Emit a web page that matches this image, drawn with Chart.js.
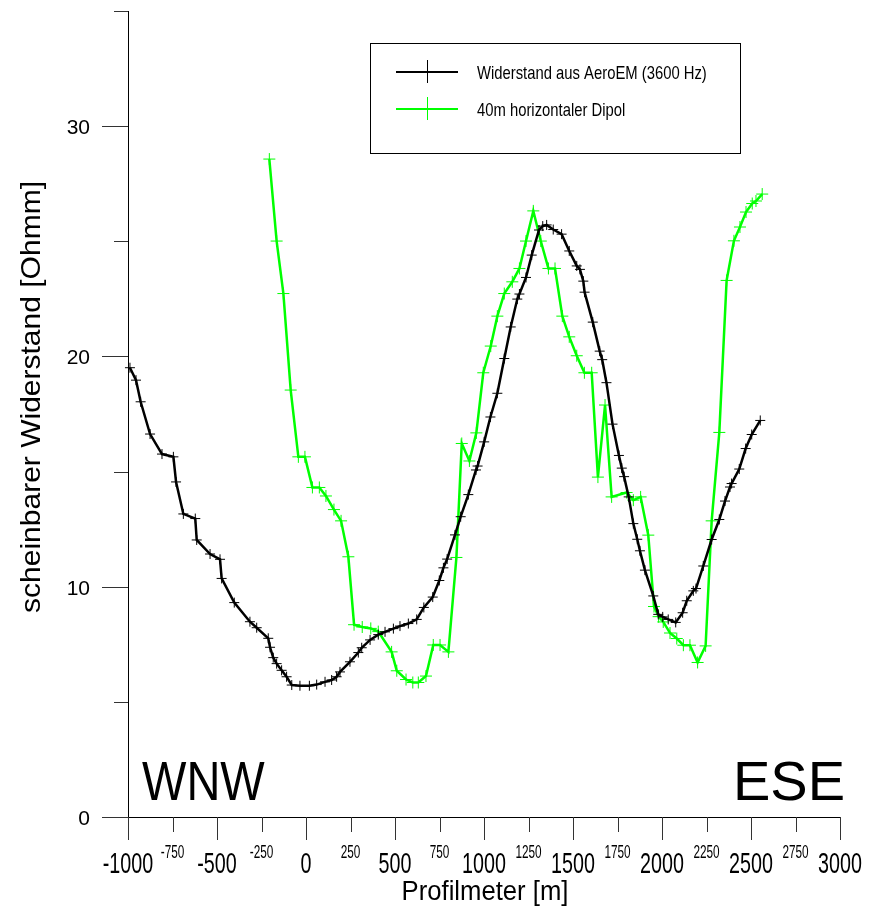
<!DOCTYPE html>
<html>
<head>
<meta charset="utf-8">
<script src="https://cdn.jsdelivr.net/npm/chart.js@4.4.0/dist/chart.umd.min.js"></script>
<style>
  html, body { margin: 0; padding: 0; background: #fff; }
  #wrap { width: 869px; height: 906px; }
</style>
</head>
<body>
<div id="wrap"><canvas id="profilChart"></canvas></div>
<script>
// Profilmeter [m] / scheinbarer Widerstand [Ohmm]
const aeroX = [-989,-955,-929,-876,-809,-745,-730,-689,-622,-614,-539,-483,-474,-403,-315,-277,-212,-202,-184,-165,
  -137,-109,-80,-34,19,60,107,144,172,191,247,294,313,360,406,444,491,528,575,622,662,712,749,772,793,837,869,912,955,964,
  1001,1036,1075,1114,1150,1187,1199,1236,1268,1309,1330,1352,1389,1436,1479,1521,1539,1558,1565,1611,1650,1664,1688,1722,
  1758,1774,1787,1813,1839,1861,1876,1904,1951,1979,2004,2035,2077,2116,2139,2176,2191,2232,2279,2322,2354,2382,2391,2434,
  2470,2504,2552];
const aeroY = [19.51,18.97,18.03,16.63,15.76,15.64,14.55,13.16,12.96,12.03,11.42,11.19,10.36,9.31,8.48,8.22,7.76,7.37,6.92,6.66,
  6.37,6.09,5.73,5.70,5.70,5.75,5.87,5.95,6.09,6.30,6.74,7.14,7.35,7.69,7.92,8.04,8.18,8.29,8.40,8.58,9.10,9.55,10.27,10.82,11.20,12.25,13.04,14.00,15.07,15.24,
  16.29,17.37,18.40,19.91,21.28,22.49,22.71,23.43,24.40,25.49,25.66,25.71,25.51,25.31,24.58,23.93,23.78,23.27,22.79,21.49,20.23,19.86,18.86,17.06,
  15.70,15.15,14.78,13.90,12.74,12.06,11.56,10.72,9.60,8.80,8.69,8.58,8.45,8.87,9.39,9.82,9.92,10.90,12.05,12.92,13.72,14.33,14.48,15.11,
  16.00,16.61,17.22];

const dipolX = [-206,-165,-127,-86,-43,-6,36,75,112,157,197,238,270,316,364,406,481,510,562,600,631,674,715,753,800,845,875,918,957,
  996,1038,1075,1114,1159,1199,1236,1277,1319,1362,1399,1440,1479,1521,1564,1605,1640,1680,1717,1801,1839,1880,1923,1955,1981,
  2007,2045,2083,2120,2157,2200,2245,2279,2322,2363,2404,2438,2472,2507,2528,2563];
const dipolY = [28.57,25.01,22.73,18.54,15.64,15.64,14.31,14.31,13.94,13.35,12.86,11.30,8.35,8.25,8.19,8.05,7.17,6.35,5.97,5.84,5.84,6.12,7.47,7.47,7.17,11.27,16.22,15.46,16.68,
  19.29,20.45,21.75,22.73,23.24,23.82,25.01,26.32,25.01,23.82,23.82,21.75,20.85,20.03,19.29,19.29,14.76,17.89,13.90,14.09,13.76,13.90,12.24,9.14,8.70,
  8.47,7.99,7.75,7.46,7.46,6.71,7.43,12.86,16.70,23.30,25.02,25.62,26.27,26.64,26.75,27.05];

const seriesNames = ['Widerstand aus AeroEM (3600 Hz)', '40m horizontaler Dipol'];
const xMajorTicks = [-1000, -500, 0, 500, 1000, 1500, 2000, 2500, 3000];
const xMinorTicks = [-750, -250, 250, 750, 1250, 1750, 2250, 2750];
const yMajorTicks = [0, 10, 20, 30];
const yMinorTicks = [5, 15, 25, 35];

const FONT = '"Liberation Sans", Arial, sans-serif';

function toPoints(xs, ys) {
  return xs.map((x, i) => ({ x: x, y: ys[i] }));
}

// text with horizontal squeeze, like the narrow font of the original
function squeezeText(ctx, text, x, y, size, sx, align) {
  ctx.save();
  ctx.font = size + 'px ' + FONT;
  ctx.translate(x, y);
  ctx.scale(sx, 1);
  ctx.textAlign = align || 'center';
  ctx.textBaseline = 'alphabetic';
  ctx.fillStyle = '#000';
  ctx.fillText(text, 0, 0);
  ctx.restore();
}

const axesPlugin = {
  id: 'axesPlugin',
  beforeDatasetsDraw(chart) {
    const ctx = chart.ctx;
    const xs = chart.scales.x, ys = chart.scales.y;
    const left = xs.getPixelForValue(-1000), right = xs.getPixelForValue(3000);
    const bottom = ys.getPixelForValue(0), top = ys.getPixelForValue(35);
    ctx.save();
    ctx.lineWidth = 1;
    ctx.strokeStyle = '#000';
    ctx.beginPath();
    ctx.moveTo(left + 0.5, top);
    ctx.lineTo(left + 0.5, bottom);
    ctx.moveTo(left - 26, bottom + 0.5);
    ctx.lineTo(right, bottom + 0.5);
    ctx.stroke();

    ctx.strokeStyle = '#333';
    ctx.beginPath();
    yMajorTicks.forEach(v => {
      const p = Math.round(ys.getPixelForValue(v)) + 0.5;
      ctx.moveTo(left - 26, p); ctx.lineTo(left, p);
    });
    yMinorTicks.forEach(v => {
      const p = Math.round(ys.getPixelForValue(v)) + 0.5;
      ctx.moveTo(left - 14, p); ctx.lineTo(left, p);
    });
    xMajorTicks.forEach(v => {
      const p = Math.round(xs.getPixelForValue(v)) + 0.5;
      ctx.moveTo(p, bottom); ctx.lineTo(p, bottom + 23);
    });
    xMinorTicks.forEach(v => {
      const p = Math.round(xs.getPixelForValue(v)) + 0.5;
      ctx.moveTo(p, bottom); ctx.lineTo(p, bottom + 15);
    });
    ctx.stroke();
    ctx.restore();

    // tick labels
    yMajorTicks.forEach(v => {
      squeezeText(ctx, String(v), left - 38, ys.getPixelForValue(v) + 8, 21, 1, 'right');
    });
    xMajorTicks.forEach(v => {
      squeezeText(ctx, String(v), xs.getPixelForValue(v), bottom + 56, 29, 0.68, 'center');
    });
    xMinorTicks.forEach(v => {
      squeezeText(ctx, String(v), xs.getPixelForValue(v), bottom + 41, 19, 0.62, 'center');
    });

    // axis titles
    squeezeText(ctx, 'Profilmeter [m]', 485, 900, 27, 0.95, 'center');
    ctx.save();
    ctx.translate(40, 397);
    ctx.rotate(-Math.PI / 2);
    ctx.font = '28px ' + FONT;
    const w = ctx.measureText('scheinbarer Widerstand [Ohmm]').width;
    ctx.scale(432 / w, 1);
    ctx.textAlign = 'center';
    ctx.fillStyle = '#000';
    ctx.fillText('scheinbarer Widerstand [Ohmm]', 0, 0);
    ctx.restore();

    // profile directions
    squeezeText(ctx, 'WNW', 142, 800, 56, 0.84, 'left');
    squeezeText(ctx, 'ESE', 845, 800, 56, 1.0, 'right');
  },
  afterDatasetsDraw(chart) {
    const ctx = chart.ctx;
    ctx.save();
    ctx.fillStyle = '#fff';
    ctx.fillRect(370, 43, 370, 110);
    ctx.strokeStyle = '#000';
    ctx.lineWidth = 1;
    ctx.strokeRect(370.5, 43.5, 370, 110);
    const rows = [
      { y: 72, color: chart.data.datasets[0].borderColor },
      { y: 109, color: chart.data.datasets[1].borderColor }
    ];
    rows.forEach((r, i) => {
      ctx.strokeStyle = r.color;
      ctx.lineWidth = 2;
      ctx.beginPath();
      ctx.moveTo(396, r.y); ctx.lineTo(458, r.y);
      ctx.stroke();
      ctx.lineWidth = 1;
      ctx.beginPath();
      ctx.moveTo(427.5, r.y - 12); ctx.lineTo(427.5, r.y + 11);
      ctx.stroke();
      squeezeText(ctx, seriesNames[i], 477, r.y + 7, 19, 0.78, 'left');
    });
    ctx.restore();
  }
};

const myChart = new Chart(document.getElementById('profilChart'), {
  type: 'scatter',
  data: {
    datasets: [{
      label: seriesNames[0],
      data: toPoints(aeroX, aeroY),
      showLine: true,
      borderColor: '#000000',
      borderWidth: 2.5,
      pointStyle: 'cross',
      pointRadius: 5,
      pointBorderWidth: 1,
      pointBorderColor: '#000000',
      pointHoverRadius: 5,
      clip: false
    }, {
      label: seriesNames[1],
      data: toPoints(dipolX, dipolY),
      showLine: true,
      borderColor: '#00ff00',
      borderWidth: 2.5,
      pointStyle: 'cross',
      pointRadius: 6,
      pointBorderWidth: 1,
      pointBorderColor: '#00ff00',
      pointHoverRadius: 6,
      clip: false
    }]
  },
  options: {
    responsive: true,
    maintainAspectRatio: false,
    animation: false,
    layout: { padding: { left: 128, right: 29, top: 11, bottom: 89 } },
    scales: {
      x: { type: 'linear', min: -1000, max: 3000, display: false },
      y: { type: 'linear', min: 0, max: 35, display: false }
    },
    plugins: {
      legend: { display: false },
      tooltip: { enabled: false }
    }
  },
  plugins: [axesPlugin]
});
</script>
</body>
</html>
